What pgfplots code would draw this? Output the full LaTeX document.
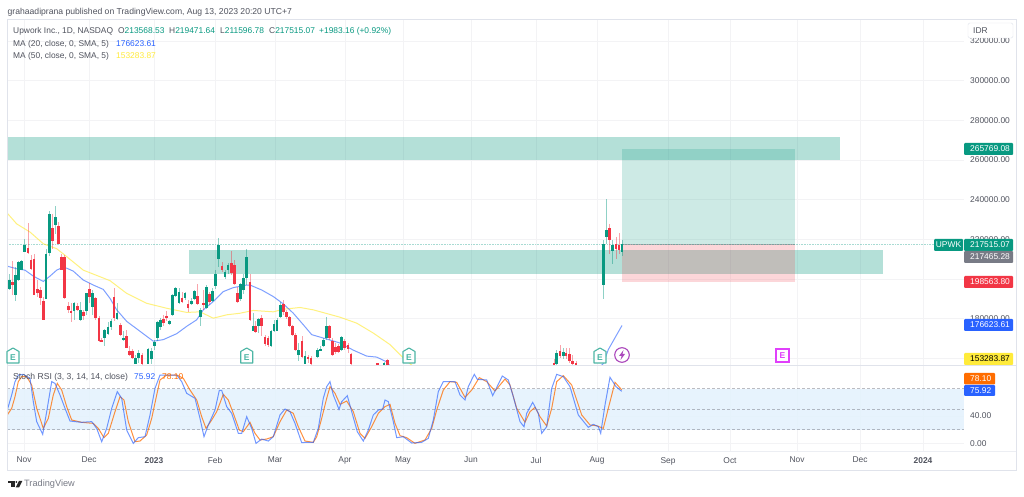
\documentclass[border=0pt]{standalone}
\usepackage{pgfplots}
\pgfplotsset{compat=1.18}
\usepackage{pgfplotstable}
\usepackage{fontspec}
\setmainfont{Liberation Sans}
\definecolor{cg}{HTML}{089981}
\definecolor{cr}{HTML}{F23645}
\definecolor{cb}{HTML}{2962FF}
\definecolor{cy}{HTML}{FFEB3B}
\definecolor{co}{HTML}{FF6D00}
\definecolor{tx}{HTML}{50535E}
\definecolor{gridc}{HTML}{F3F3F5}
\definecolor{bord}{HTML}{E0E3EB}
\definecolor{gr}{HTML}{787B86}
\definecolor{rsibg}{HTML}{E3F2FD}
\definecolor{pur}{HTML}{AB47BC}
\definecolor{mag}{HTML}{E040FB}
\definecolor{icong}{HTML}{4DB6A5}
\pgfplotstableread{
x open high low close
9.3 194.8 202.8 194.5 199.5
15.3 192 206.2 189.2 202
18.7 199.5 209.2 199.2 208.7
21.7 204.5 209.5 204.5 209.2
24.7 213.7 220.3 213.7 217
46 190.2 215.3 190.2 212.8
49.3 213.2 234.2 211.5 232.8
55.7 227 237 222.8 231.2
74 183.7 188.7 179.2 187.8
80.3 179.5 188.7 178.7 184.2
86.3 183.7 193.2 182 192.8
92.7 185.8 194.5 182 192.8
104.7 170.2 174.8 166.2 174.5
108 172.5 178.2 172 175.8
111 175.7 179.8 174.5 179
117 179.8 187.8 179.2 182.8
123.3 169.5 173.7 168.7 170.5
135.7 157.3 162 157 160
138.7 160.3 164.2 157.8 162.8
148 157 165.3 157 165
151.3 159.5 165.5 157 163.8
154.3 166.2 169.5 164.5 168.5
157.3 170.3 178.7 168.7 178.2
160.7 175.8 180.3 174.5 179.5
169.7 177.3 179.5 177 179
172.7 182 192.5 181.5 191.8
175.7 191.7 196.2 191.2 195.7
179 188.2 195.3 187.5 193.5
185 190.3 193.7 189.5 192.8
191.3 187.5 190.3 187 189
194.3 189.8 194.5 189.5 194.2
200.3 180.8 185.3 176.2 184.2
206.7 185.3 197 184.8 195.8
212.7 189.2 195.3 188.7 194
215.7 196.5 204.5 194.8 202.8
218.7 210.2 220.8 206.2 217.3
225 201.2 204.8 199.8 203.7
228 204.5 208.2 202.8 207.3
240.3 189.8 197.8 189.2 197.3
243.3 194.5 202.8 192.5 200.3
246.7 200.3 215.3 197 211.2
253.3 173.7 182.8 173.7 176.2
258.7 176.5 180.3 172.8 179.8
271 166.2 174.5 165.8 173.7
274 173.7 179.5 173.2 177.3
277 174 180.3 173.7 179.2
280.3 180.8 188.7 180.3 187
298.7 161.8 167.8 158.7 164.5
305 157.3 163.7 157 161.5
317.3 160.7 165.3 160.3 164.5
320.3 164.2 166.2 163.7 164.8
323.3 166.2 170.3 165.8 169.5
326.7 170.3 180.8 169.5 176.2
341.7 164.5 171.5 163.7 170.7
384 156.8 158.2 156.2 157.8
556.7 157 164.5 156.2 162.8
563.3 161.2 165.3 159.5 163.3
603.3 197 219.8 189.8 217.8
606.7 221.2 240.3 217.8 224.5
612.7 214 219.5 207.8 217
622 213.57 219.47 211.6 217.52
}\upT
\pgfplotstableread{
x open high low close
12.3 198.5 209 192 197
28 215.8 228.3 212.8 213.2
31 209.8 212 204.5 205.3
34 210.3 212.8 192 192.2
37.3 194.8 199.5 191.2 192.8
40.3 194.5 196.2 187 190.7
43.3 188.8 191.2 179.2 179.3
52.3 225.8 232.8 215.3 219
58.7 226.5 228.7 217.5 217.8
61.7 211.2 212.8 204.5 204.8
64.3 211.2 212 190.2 190.3
68.3 186.5 188.7 182.8 184.5
71 183.8 187.8 178.2 182.8
77.3 186.2 187.8 183.7 184.5
83.3 183.2 184.5 179.2 181.5
89.7 194.8 197.8 187.8 190.8
95.7 190.5 191.2 179.5 180.2
99 180.3 181.2 168.2 168.7
101.7 169.2 170.3 168.2 168.7
114 191.2 195.3 178.7 180.3
120.3 177 177.8 171.2 172
126.3 171.2 174.5 165.2 165.5
129.7 164 166.2 161.2 161.8
132.7 163.7 164.8 159.5 160.3
142 161.7 162.8 156.2 157
163.7 180 182 176.2 177.8
166.7 181.5 183.7 178.7 180.3
182 190.5 193.7 187.8 188.5
188 187.5 189.5 183.2 185.5
197.3 191.5 197.5 187 187.5
203.3 188.2 194.5 184.5 186.8
209.7 192.5 193.7 187 188.5
222 206.8 208.7 203.7 204.5
231.3 208 214.2 202 203.3
234.3 207 209.5 197 197.3
237.3 192.8 196.2 187.8 188.5
250 198.7 202.8 178.7 179.5
255.7 176.2 178.7 172.8 173.5
261.7 180.3 182 171.5 176.2
265 170.7 172 166.2 167.5
268 170.3 171.5 165.8 167
283.3 187.5 189.5 182 183.2
286.7 183.2 184.5 179.8 180.8
289.7 180.8 181.2 175.8 176.2
292.7 176.2 177 171.2 172
295.7 172 172.8 163.7 164.5
302 169 171.2 160.3 160.8
308 160.7 162 157.8 159.5
311 160.3 161.2 156.2 157
329.3 176.2 177 169.5 170.3
332.3 169 170.3 161.5 162
335.7 165.8 167.8 162.5 163.2
338.7 166.2 167.5 162.8 163.5
344.7 168.7 169.8 164.5 165.3
348 166.7 167.8 162.8 164.8
351 162.3 162.8 156.2 157
377.3 157.5 157.8 156.2 156.8
387.3 159 159.5 156.2 156.8
554 157.8 159.5 156.2 156.7
560 163.7 167 160.3 161.5
566 162.8 165.3 159.5 161.5
569.3 162.5 165.3 157.8 158.7
572.7 158.7 162 156.2 157
576 157.7 158.7 156.2 156.8
609.7 225.8 227.8 212.8 219.5
616 217.8 221.2 210.3 215
619 217 223.3 212.8 214.8
}\downT
\pgfplotsset{
 wicks/.style={draw=none,mark=none,forget plot,error bars/.cd,y dir=both,y explicit,error mark=none,
  error bar style={draw=#1,draw opacity=.45,line width=.9pt,solid}},
 bodies/.style={draw=none,mark=none,forget plot,error bars/.cd,y dir=both,y explicit,error mark=none,
  error bar style={draw=#1,line width=2.8pt,solid}},
}
\newcommand\fs{\fontsize{8.4}{10}\selectfont}
\newcommand\plab[7]{\fill[#5,rounded corners=1pt] (#1,#2) rectangle (#3,#4);
 \node[anchor=west,inner sep=0pt,text=#6] at ({#1+6},{(#2+#4)/2}) {\fs #7};}
\newcommand\house[3]{\draw[#3,line width=1.1pt,fill=white,line join=round] (#1,348)--(#1+6,351.5)--(#1+6,363)--(#1-6,363)--(#1-6,351.5)--cycle;
 \node[inner sep=0pt,text=#3] at (#1,357.3) {\fontsize{8.5}{10}\selectfont\bfseries #2};}
\begin{document}
\begin{tikzpicture}
\useasboundingbox (0,0) rectangle (1024pt,497pt);
\fill[white] (0,0) rectangle (1024pt,497pt);
\begin{axis}[at={(7pt,132pt)},anchor=south west,scale only axis,width=957pt,height=345pt,
 xmin=7,xmax=964,ymin=156.72,ymax=330.53,
 axis line style={draw=none},tick style={draw=none},major tick length=0pt,
 xtick={24,89,154,215,275,345,403,471,536,597,668,730,797,860,923},xticklabels={},
 ytick={160,180,200,220,240,260,280,300,320},
 yticklabels={,180000.00,,220000.00,240000.00,260000.00,280000.00,300000.00,320000.00},
 yticklabel pos=right,
 yticklabel style={anchor=west,inner sep=0pt,xshift=6pt,font=\fs,text=tx},
 grid=major,grid style={gridc,line width=.7pt},
 axis background/.style={fill=white},
]
\addplot[draw=none,fill=cg,fill opacity=.3,forget plot] coordinates {(7,271.6)(840,271.6)(840,260)(7,260)} --cycle;
\addplot[draw=none,fill=cg,fill opacity=.3,forget plot] coordinates {(189,214.7)(883,214.7)(883,202.6)(189,202.6)} --cycle;
\addplot[draw=none,fill=cg,fill opacity=.2,forget plot] coordinates {(622,265.77)(795,265.77)(795,217.47)(622,217.47)} --cycle;
\addplot[draw=none,fill=cr,fill opacity=.2,forget plot] coordinates {(622,217.47)(795,217.47)(795,198.56)(622,198.56)} --cycle;
\addplot[gr,opacity=.5,line width=.6pt,forget plot] coordinates {(622,217.47)(795,217.47)};
\addplot[cg,opacity=.35,line width=.6pt,densely dotted,forget plot] coordinates {(7,217.52)(934,217.52)};
\addplot[cy,opacity=.65,line width=1pt,forget plot] coordinates {(7.3,233.2)(16.7,227.8)(30,223.7)(43.3,217.8)(56.7,215.3)(65,212)(83.3,204.5)(110,199.2)(126.7,192.8)(146.7,187.8)(166.7,185.3)(186.7,183.2)(200,183.5)(213.3,180.3)(226.7,182)(240,182.8)(253.3,184.2)(273.3,183.5)(283.3,184.8)(300,185.7)(313.3,184.5)(340,180.8)(356.7,177.8)(373.3,172.8)(390,167)(403.3,160.3)(416.7,154.5)(450,140)(550,135)(622,153.28)};
\addplot[cb,opacity=.6,line width=1pt,forget plot] coordinates {(7.3,206.5)(16.7,205.2)(25,204.5)(33.3,201.5)(43.3,198.8)(50,201.5)(56.7,204.5)(61,205.5)(66.7,205.5)(73.3,204)(83.3,199.5)(93.3,197)(103.3,194.8)(110,190.3)(116.7,184.5)(126.7,178.7)(140,173.7)(153.3,168.7)(163.3,169.5)(176.7,172.5)(186.7,176.2)(196.7,179.5)(203.3,184.5)(213.3,188.7)(223.3,193.7)(233.3,195.7)(246.7,197)(250,197)(261.7,194.5)(273.3,191.2)(283.3,187.5)(293.3,182.8)(303.3,177)(311.7,172)(326.7,169.8)(340,167.8)(353.3,164.2)(366.7,161.2)(376.7,160.7)(386.7,158.3)(400,150)(470,140)(540,140)(590,150)(603.3,157.5)(608.3,164.5)(622,176.62)};
\addplot[wicks=cg] table[x=x,y expr={(\thisrow{high}+\thisrow{low})/2},y error expr={(\thisrow{high}-\thisrow{low})/2}] {\upT};
\addplot[wicks=cr] table[x=x,y expr={(\thisrow{high}+\thisrow{low})/2},y error expr={(\thisrow{high}-\thisrow{low})/2}] {\downT};
\addplot[bodies=cg] table[x=x,y expr={(\thisrow{open}+\thisrow{close})/2},y error expr={abs(\thisrow{close}-\thisrow{open})/2}] {\upT};
\addplot[bodies=cr] table[x=x,y expr={(\thisrow{open}+\thisrow{close})/2},y error expr={abs(\thisrow{close}-\thisrow{open})/2}] {\downT};
\end{axis}
\begin{axis}[at={(7pt,46pt)},anchor=south west,scale only axis,width=957pt,height=86pt,
 xmin=7,xmax=964,ymin=-10.9,ymax=114.2,
 axis line style={draw=none},tick style={draw=none},major tick length=0pt,
 xtick={24,89,154,215,275,345,403,471,536,597,668,730,797,860,923},
 xticklabels={Nov,Dec,\textbf{2023},Feb,Mar,Apr,May,Jun,Jul,Aug,Sep,Oct,Nov,Dec,\textbf{2024}},
 xticklabel style={font=\fs,text=tx,inner sep=0pt,yshift=-6pt},
 ytick={0,40},yticklabels={0.00,40.00},
 yticklabel pos=right,
 yticklabel style={anchor=west,inner sep=0pt,xshift=6pt,font=\fs,text=tx},
 grid=major,grid style={gridc,line width=.7pt},
 axis background/.style={fill=white},
]
\addplot[draw=none,fill=rsibg,fill opacity=.85,forget plot] coordinates {(7,80)(964,80)(964,20)(7,20)} --cycle;
\addplot[gr,opacity=.5,line width=.7pt,dash pattern=on 2.5pt off 2.5pt,forget plot] coordinates {(7,80)(964,80)};
\addplot[gr,opacity=.5,line width=.7pt,dash pattern=on 2.5pt off 2.5pt,forget plot] coordinates {(7,50)(964,50)};
\addplot[gr,opacity=.5,line width=.7pt,dash pattern=on 2.5pt off 2.5pt,forget plot] coordinates {(7,20)(964,20)};
\addplot[co,opacity=.75,line width=1pt,forget plot] coordinates {(7.3,41.5)(11.7,51.2)(15,68.1)(18.3,90)(21.7,97.2)(26.7,97.2)(31.7,85.1)(36.7,51.2)(43.3,22)(48.3,36.6)(53.3,70.6)(57.3,87.5)(61.7,77.8)(66.7,53.6)(71.7,34.2)(81.7,30.8)(93.3,29.3)(98.3,22)(104,8.5)(108.3,14.8)(115,46.3)(120,68.1)(124,63.3)(128.3,31.8)(135,2.6)(140,3.6)(146.7,12.4)(151.7,36.6)(156.7,70.6)(160,92.4)(166.7,99.6)(176.7,99.6)(183.3,94.8)(190,77.8)(196.7,63.3)(201.7,39)(206,22)(211.7,34.2)(216.7,46.3)(223.3,71.5)(228.3,63.3)(233.3,43.9)(239.3,19.6)(243.3,17.2)(250,30.8)(255,14.8)(260,5.1)(266.7,6.5)(273.3,9.9)(280,31.8)(286.7,48.7)(293.3,43.9)(298.3,24.5)(305,3.6)(313.3,1.7)(316.7,9.9)(321.7,36.6)(326.7,65.7)(330,82.7)(335,73)(340,57)(346.7,61.8)(353.3,46.3)(360,14.8)(365,7.5)(371.7,24.5)(378.3,43.9)(385,53.6)(390,57)(395,29.3)(400,11.4)(406.7,8.5)(415,0.2)(425,5.1)(431.7,22)(436.7,48.7)(443.3,77.8)(450,90)(456.7,89)(465,67.2)(471.7,77.8)(479.3,95.8)(486.7,90)(495,76.4)(505,93.8)(510,85.1)(516.7,51.2)(525,30.8)(530,46.3)(535,52.6)(540,39)(546.7,25.4)(551.7,51.2)(556.7,90)(563.3,98.7)(571.7,85.1)(581.7,41.5)(590,26.9)(596.7,25.9)(603.3,22)(608.3,51.2)(615,89)(621.7,78.1)};
\addplot[cb,opacity=.65,line width=1pt,forget plot] coordinates {(7.3,48.7)(11.7,70.6)(15,90)(18.3,99.6)(23.3,100.6)(30,94.8)(33.3,60.9)(36.7,31.8)(42.7,13.3)(46.7,46.3)(51.7,90)(55,87.5)(60,70.6)(65,51.2)(70,32.7)(75,31.8)(81.7,30.8)(91.7,31.8)(96.7,22)(101.7,2.6)(106.7,22)(111.7,51.2)(117.3,75.4)(121.7,65.7)(126.7,19.6)(133.3,0.2)(138.3,8.5)(145,9.9)(150,41.5)(155,80.2)(160,99.6)(166.7,99.6)(176.7,99.6)(181.7,90)(186.7,73)(195,65.7)(200,36.6)(204,9.9)(208.3,26.9)(215,48.7)(219.3,77.3)(221.7,77.3)(226.7,53.6)(231.7,43.9)(238.3,14.8)(241.7,14.8)(246.7,39)(251.7,22)(256,0.2)(261.7,6.5)(268.3,3.6)(273.3,9.9)(280,41.5)(285,50.2)(290,46.3)(295,29.3)(301.7,1.2)(306.7,1.7)(313.3,1.7)(318.3,22)(323.3,65.7)(326.7,82.7)(330,90)(333.3,70.6)(339,49.7)(341.7,60.9)(347.3,69.6)(351.7,46.3)(357.3,17.2)(363.3,3.6)(368.3,19.6)(373.3,41.5)(378.3,48.7)(382.7,50.2)(385,63.3)(388.3,60.9)(393.3,31.8)(396.7,8.5)(403.3,9.9)(411.7,0.7)(421.7,1.7)(428.3,7.5)(433.3,34.2)(438.3,75.4)(443.3,90)(455,90)(460,70.6)(465,63.3)(468.3,82.7)(474.3,100.6)(477.3,93.3)(486.7,92.4)(492.7,69.6)(502.3,98.2)(508.3,92.4)(513.3,68.1)(520,31.8)(524,24.5)(526.7,43.9)(532.7,59.9)(538.3,43.9)(541.7,14.8)(546.7,24.5)(551.7,80.2)(556.7,100.6)(563.3,97.2)(570,82.7)(578.3,41.5)(588.3,23.5)(593.3,27.9)(598.3,24.5)(600.7,14.8)(605,56)(610,96.3)(616,82.7)(621.7,75.92)};
\end{axis}
\begin{scope}[x=1pt,y=-1pt,shift={(0pt,497pt)}]
\draw[bord,line width=.8pt] (7,19) rectangle (1016,470);
\draw[bord,line width=.8pt] (7,365.5)--(1016,365.5);
\draw[bord!60,line width=.6pt] (7,451)--(1016,451);
\node[anchor=west,inner sep=0pt,text=tx] at (7.5,12) {\fontsize{8.6}{10}\selectfont grahaadiprana published on TradingView.com, Aug 13, 2023 20:20 UTC+7};
\node[anchor=west,inner sep=0pt,text=tx] at (13,31) {\fs Upwork Inc., 1D, NASDAQ};
\node[anchor=west,inner sep=0pt,text=tx] at (118,31) {\fs O\textcolor{cg}{213568.53}};
\node[anchor=west,inner sep=0pt,text=tx] at (169,31) {\fs H\textcolor{cg}{219471.64}};
\node[anchor=west,inner sep=0pt,text=tx] at (220,31) {\fs L\textcolor{cg}{211596.78}};
\node[anchor=west,inner sep=0pt,text=tx] at (269,31) {\fs C\textcolor{cg}{217515.07}};
\node[anchor=west,inner sep=0pt,text=cg] at (319,31) {\fs +1983.16 (+0.92\%)};
\node[anchor=west,inner sep=0pt,text=tx] at (13,44) {\fs MA (20, close, 0, SMA, 5)};
\node[anchor=west,inner sep=0pt,text=cb] at (116,44) {\fs 176623.61};
\node[anchor=west,inner sep=0pt,text=tx] at (13,56) {\fs MA (50, close, 0, SMA, 5)};
\node[anchor=west,inner sep=0pt,text=cy] at (116,56) {\fs 153283.87};
\node[anchor=west,inner sep=0pt,text=tx] at (13,377) {\fontsize{8.6}{10}\selectfont Stoch RSI (3, 3, 14, 14, close)};
\node[anchor=west,inner sep=0pt,text=cb] at (134,377) {\fs 75.92};
\node[anchor=west,inner sep=0pt,text=co] at (162,377) {\fs 78.10};
\draw[bord,fill=white,rounded corners=1.5pt] (968,23) rectangle (1013,38);
\node[anchor=west,inner sep=0pt,text=tx] at (973,31) {\fs IDR};
\plab{964}{143}{1013}{155}{cg}{white}{265769.08}
\plab{964}{239}{1013}{251}{cg}{white}{217515.07}
\fill[cg,rounded corners=1pt] (934,239) rectangle (963,251);
\node[inner sep=0pt,text=white] at (948.5,245) {\fs UPWK};
\plab{964}{251}{1013}{263}{gr}{white}{217465.28}
\plab{964}{276}{1013}{288}{cr}{white}{198563.80}
\plab{964}{319}{1013}{331}{cb}{white}{176623.61}
\plab{964}{353}{1013}{365}{cy}{black}{153283.87}
\plab{964}{373}{995}{384.5}{co}{white}{78.10}
\plab{964}{385}{995}{396}{cb}{white}{75.92}
\house{13}{E}{icong}
\house{246.7}{E}{icong}
\house{409}{E}{icong}
\house{600}{E}{icong}
\draw[mag,line width=1.1pt,fill=white] (776,349) rectangle (789,362);
\node[inner sep=0pt,text=mag] at (782.5,355.5) {\fontsize{8.5}{10}\selectfont\bfseries E};
\draw[pur,line width=1.1pt,fill=white] (622,355) circle (7.3);
\fill[pur] (623.5,350)--(619,356)--(621.6,356)--(620.5,360)--(625,354)--(622.4,354)--cycle;
\fill[black!85] (8,481) rectangle (14.5,483);
\fill[black!85] (11,481) rectangle (14.5,487.5);
\fill[black!85] (16.3,482) circle (1);
\fill[black!85] (19,481)--(22.3,481)--(19,487.5)--(15.7,487.5)--cycle;
\node[anchor=west,inner sep=0pt,text=gr] at (24,484) {\fontsize{9.2}{10}\selectfont TradingView};
\end{scope}
\end{tikzpicture}
\end{document}
